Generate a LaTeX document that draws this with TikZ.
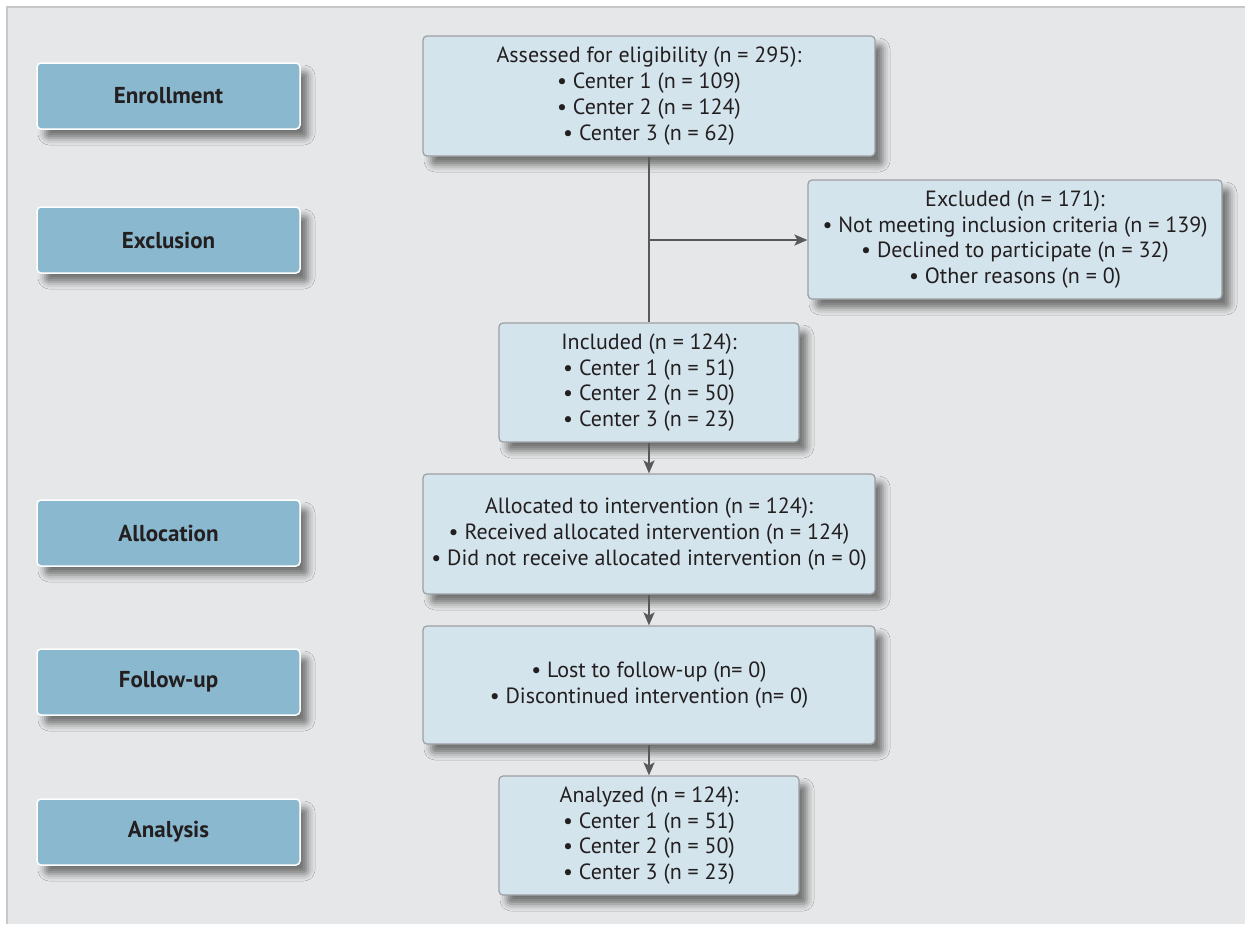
\documentclass[tikz,border=0pt]{standalone}
\usepackage{fontspec}
\setmainfont{PT Sans}
\usetikzlibrary{arrows.meta,shadows.blur}
\definecolor{bgpanel}{HTML}{E6E7E8}
\definecolor{bgedge}{HTML}{C7C8CA}
\definecolor{stagefill}{HTML}{8AB8CF}
\definecolor{boxfill}{HTML}{D3E4ED}
\definecolor{boxedge}{HTML}{9D9FA2}
\definecolor{linecol}{HTML}{58595B}
\definecolor{txt}{HTML}{231F20}
\tikzset{
  stage/.style={draw=white, line width=1.5pt, fill=stagefill, rounded corners=4pt,
    minimum width=263pt, minimum height=66pt, inner sep=0pt, text=txt,
    font=\fontsize{23}{26}\selectfont\bfseries,
    blur shadow={shadow xshift=8pt, shadow yshift=-9pt, shadow blur radius=7pt, shadow opacity=50}},
  infobox/.style={draw=boxedge, line width=1.2pt, fill=boxfill, rounded corners=4pt,
    inner sep=0pt, align=center, text=txt,
    font=\fontsize{22}{25.8}\selectfont,
    blur shadow={shadow xshift=8pt, shadow yshift=-9pt, shadow blur radius=7pt, shadow opacity=50}},
  conn/.style={draw=linecol, line width=2pt},
  arr/.style={conn, -{Stealth[length=13pt,width=11pt,inset=3pt]}}
}
\begin{document}
\begin{tikzpicture}[x=1pt,y=-1pt]
\useasboundingbox (0,0) rectangle (1245,924);
\fill[white] (0,0) rectangle (1245,924);
\fill[bgpanel] (6,6) rectangle (1245,924);
\draw[bgedge, line width=2pt] (7,924) -- (7,7) -- (1245,7);

\node[stage] (sEnr) at (168.5,96) {Enrollment};
\node[stage] (sExc) at (168.5,240) {Exclusion};
\node[stage] (sAll) at (168.5,533) {Allocation};
\node[stage] (sFol) at (168.5,682) {Follow-up};
\node[stage] (sAna) at (168.5,832) {Analysis};

\node[infobox, minimum width=452pt, minimum height=120pt] (assessed) at (649,96)
  {Assessed for eligibility (n = 295):\\ • Center 1 (n = 109)\\ • Center 2 (n = 124)\\ • Center 3 (n = 62)};
\node[infobox, minimum width=414pt, minimum height=119pt] (excluded) at (1015,239.5)
  {Excluded (n = 171):\\ • Not meeting inclusion criteria (n = 139)\\ • Declined to participate (n = 32)\\ • Other reasons (n = 0)};
\node[infobox, minimum width=300pt, minimum height=119pt] (included) at (649,382.5)
  {Included (n = 124):\\ • Center 1 (n = 51)\\ • Center 2 (n = 50)\\ • Center 3 (n = 23)};
\node[infobox, minimum width=452pt, minimum height=120pt] (allocated) at (649,534)
  {Allocated to intervention (n = 124):\\ • Received allocated intervention (n = 124)\\ • Did not receive allocated intervention (n = 0)};
\node[infobox, minimum width=452pt, minimum height=118pt] (followbox) at (649,685)
  {• Lost to follow-up (n= 0)\\ • Discontinued intervention (n= 0)};
\node[infobox, minimum width=300pt, minimum height=119pt] (analyzed) at (649,835.5)
  {Analyzed (n = 124):\\ • Center 1 (n = 51)\\ • Center 2 (n = 50)\\ • Center 3 (n = 23)};

\coordinate (branch) at (650,240);
\draw[conn] (assessed.south) -- (included.north);
\draw[arr] (branch) -- (branch -| excluded.west);
\draw[arr] (included.south) -- (allocated.north);
\draw[arr] (allocated.south) -- (followbox.north);
\draw[arr] (followbox.south) -- (analyzed.north);
\end{tikzpicture}
\end{document}
